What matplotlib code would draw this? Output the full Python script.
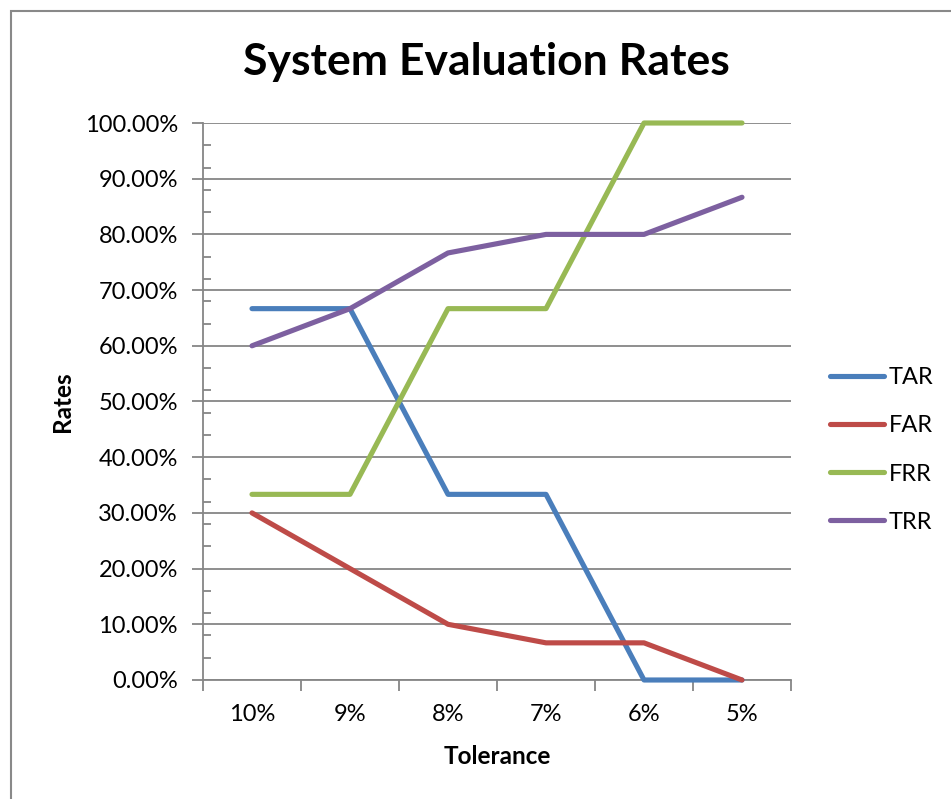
import matplotlib
matplotlib.use("Agg")
import matplotlib.pyplot as plt
from matplotlib.ticker import MultipleLocator, FuncFormatter, FixedLocator
from matplotlib.patches import Rectangle

plt.rcParams['font.family'] = ['Lato', 'DejaVu Sans']

tolerance = ["10%", "9%", "8%", "7%", "6%", "5%"]
tar = [66.67, 66.67, 33.33, 33.33, 0.0, 0.0]
far = [30.0, 20.0, 10.0, 6.67, 6.67, 0.0]
frr = [33.33, 33.33, 66.67, 66.67, 100.0, 100.0]
trr = [60.0, 66.67, 76.67, 80.0, 80.0, 86.67]

series = [("TAR", tar, "#4A7EBB"),
          ("FAR", far, "#BE4B48"),
          ("FRR", frr, "#98B954"),
          ("TRR", trr, "#7D60A0")]

W, H = 951, 799
fig = plt.figure(figsize=(W / 100, H / 100), dpi=100)
fig.patch.set_facecolor("white")

# chart-area frame
fig.add_artist(Rectangle((11 / W, -0.05), 1.2, (H - 11) / H + 0.05,
                         transform=fig.transFigure, fill=False,
                         edgecolor="#898989", linewidth=1.5))

ax = fig.add_axes([203 / W, (H - 680) / H, (791 - 203) / W, (680 - 123) / H])
x = list(range(len(tolerance)))
for name, vals, col in series:
    ax.plot(x, [v / 100 for v in vals], color=col, linewidth=3.7,
            solid_capstyle="round", solid_joinstyle="round", label=name,
            clip_on=False, zorder=3)

ax.set_xlim(-0.5, len(tolerance) - 0.5)
ax.set_ylim(0, 1.0)

grid_col = "#868686"
ax.yaxis.set_major_locator(MultipleLocator(0.1))
ax.yaxis.set_minor_locator(MultipleLocator(0.04))
ax.yaxis.set_major_formatter(FuncFormatter(lambda v, p: f"{v * 100:.2f}%"))
ax.grid(axis="y", which="major", color=grid_col, linewidth=1.3, zorder=1)

ax.xaxis.set_major_locator(FixedLocator(x))
ax.set_xticklabels(tolerance)
ax.xaxis.set_minor_locator(FixedLocator([i - 0.5 for i in range(len(tolerance) + 1)]))
ax.tick_params(axis="x", which="major", length=0, pad=17, labelsize=17)
ax.tick_params(axis="x", which="minor", length=8, width=1.3, color=grid_col, direction="out")
ax.tick_params(axis="y", which="major", length=8, width=1.3, color=grid_col,
               direction="out", labelsize=17, pad=10)
ax.tick_params(axis="y", which="minor", length=6, width=1.3, color=grid_col, direction="in")

for s in ("top", "right"):
    ax.spines[s].set_visible(False)
for s in ("left", "bottom"):
    ax.spines[s].set_color(grid_col)
    ax.spines[s].set_linewidth(1.3)

fig.text(486 / W, 1 - 62 / H, "System Evaluation Rates", fontsize=32,
         fontweight="bold", ha="center", va="center")
fig.text(497 / W, 1 - 757 / H, "Tolerance", fontsize=17.5,
         fontweight="bold", ha="center", va="center")
fig.text(62 / W, 1 - 402 / H, "Rates", fontsize=17.5, rotation=90,
         fontweight="bold", ha="center", va="center")

ax.legend(loc="center left", bbox_to_anchor=(627 / 588, 0.413), frameon=False,
          fontsize=17, handlelength=2.3, handletextpad=0.18, labelspacing=1.15,
          borderaxespad=0, borderpad=0)

fig.savefig("out.png", dpi=100)
